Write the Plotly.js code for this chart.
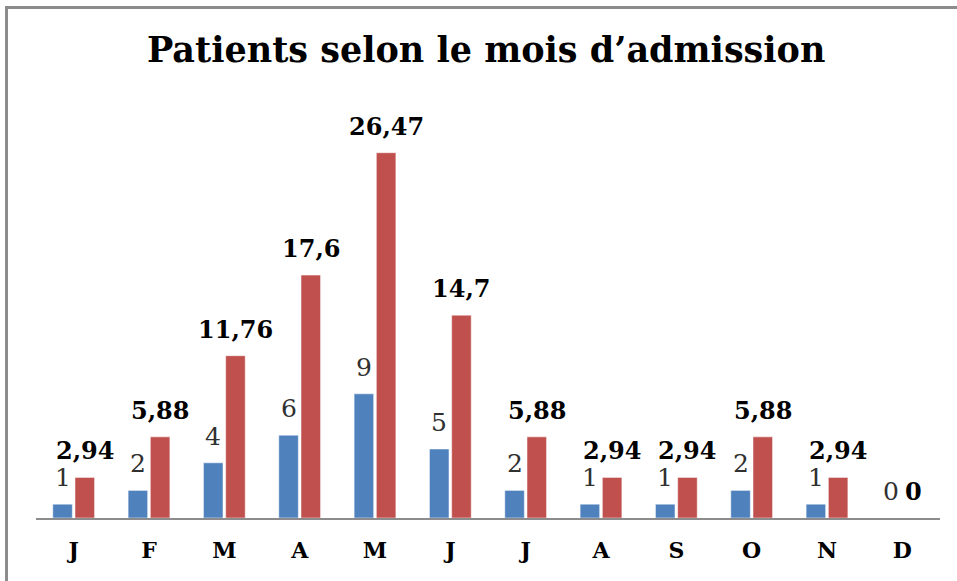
<!DOCTYPE html>
<html>
<head>
<meta charset="utf-8">
<script src="https://cdn.plot.ly/plotly-3.0.1.min.js"></script>
<style>
  html, body { margin: 0; padding: 0; background: #fff; }
  #wrap { position: relative; width: 957px; height: 581px; }
  #chart { width: 957px; height: 581px; }
  #frame { position: absolute; left: 5px; top: 6px; right: 0; bottom: 0;
           border-top: 3px solid #8c8c8c; border-left: 3px solid #8c8c8c;
           pointer-events: none; }
</style>
</head>
<body>
<div id="wrap">
  <div id="chart"></div>
  <div id="frame"></div>
</div>
<script>
const months = ['J', 'F', 'M', 'A', 'M', 'J', 'J', 'A', 'S', 'O', 'N', 'D'];
const patients = [1, 2, 4, 6, 9, 5, 2, 1, 1, 2, 1, 0];
const percents = [2.94, 5.88, 11.76, 17.6, 26.47, 14.7, 5.88, 2.94, 2.94, 5.88, 2.94, 0];

// unique x keys so repeated month letters stay separate categories
const xKeys = months.map((m, i) => i);

const W = 957, H = 581;
const margin = { l: 36, r: 17, t: 104, b: 63 };
const bargap = 0.41;
// half of one bar slot inside a group, in pixels (used to centre labels on bars)
const slotHalf = ((W - margin.l - margin.r) / months.length) * (1 - bargap) / 4;

const fmt = v => String(v).replace('.', ',');

const traceCount = {
  type: 'bar',
  x: xKeys,
  y: patients,
  name: 'Effectif',
  marker: { color: '#4f81bd', line: { color: '#ffffff', width: 0.5 } },
  hoverinfo: 'y'
};
const tracePct = {
  type: 'bar',
  x: xKeys,
  y: percents,
  name: 'Pourcentage',
  marker: { color: '#c0504d', line: { color: '#ffffff', width: 0.5 } },
  hoverinfo: 'y'
};

const annotations = [];
xKeys.forEach((x, i) => {
  annotations.push({
    x: x, y: patients[i], xref: 'x', yref: 'y',
    text: fmt(patients[i]), showarrow: false,
    xanchor: 'center', yanchor: 'bottom',
    xshift: -slotHalf, yshift: 10,
    font: { family: 'DejaVu Serif', size: 25, color: '#303030' }
  });
  annotations.push({
    x: x, y: percents[i], xref: 'x', yref: 'y',
    text: '<b>' + fmt(percents[i]) + '</b>', showarrow: false,
    xanchor: 'center', yanchor: 'bottom',
    xshift: slotHalf, yshift: 10,
    font: { family: 'DejaVu Serif', size: 24, color: '#000000' }
  });
});

const layout = {
  width: W,
  height: H,
  margin: margin,
  paper_bgcolor: '#ffffff',
  plot_bgcolor: '#ffffff',
  showlegend: false,
  barmode: 'group',
  bargap: bargap,
  bargroupgap: 0.12,
  annotations: annotations,
  title: {
    text: 'Patients selon le mois d’admission',
    font: { family: 'DejaVu Serif', size: 35, color: '#000000', weight: 'bold' },
    x: 0.508, xanchor: 'center', xref: 'container',
    y: 1 - 50 / H, yanchor: 'middle', yref: 'container'
  },
  xaxis: {
    type: 'category',
    tickmode: 'array',
    tickvals: xKeys,
    ticktext: months,
    showline: true,
    linecolor: '#8c8c8c',
    linewidth: 1.5,
    ticks: '',
    showgrid: false,
    zeroline: false,
    ticklabelstandoff: 12,
    tickfont: { family: 'DejaVu Serif', size: 22, color: '#000000', weight: 'bold' }
  },
  yaxis: {
    range: [0, 30],
    visible: false,
    showgrid: false,
    zeroline: false
  }
};

Plotly.newPlot('chart', [traceCount, tracePct], layout, { displayModeBar: false, staticPlot: true });
</script>
</body>
</html>
